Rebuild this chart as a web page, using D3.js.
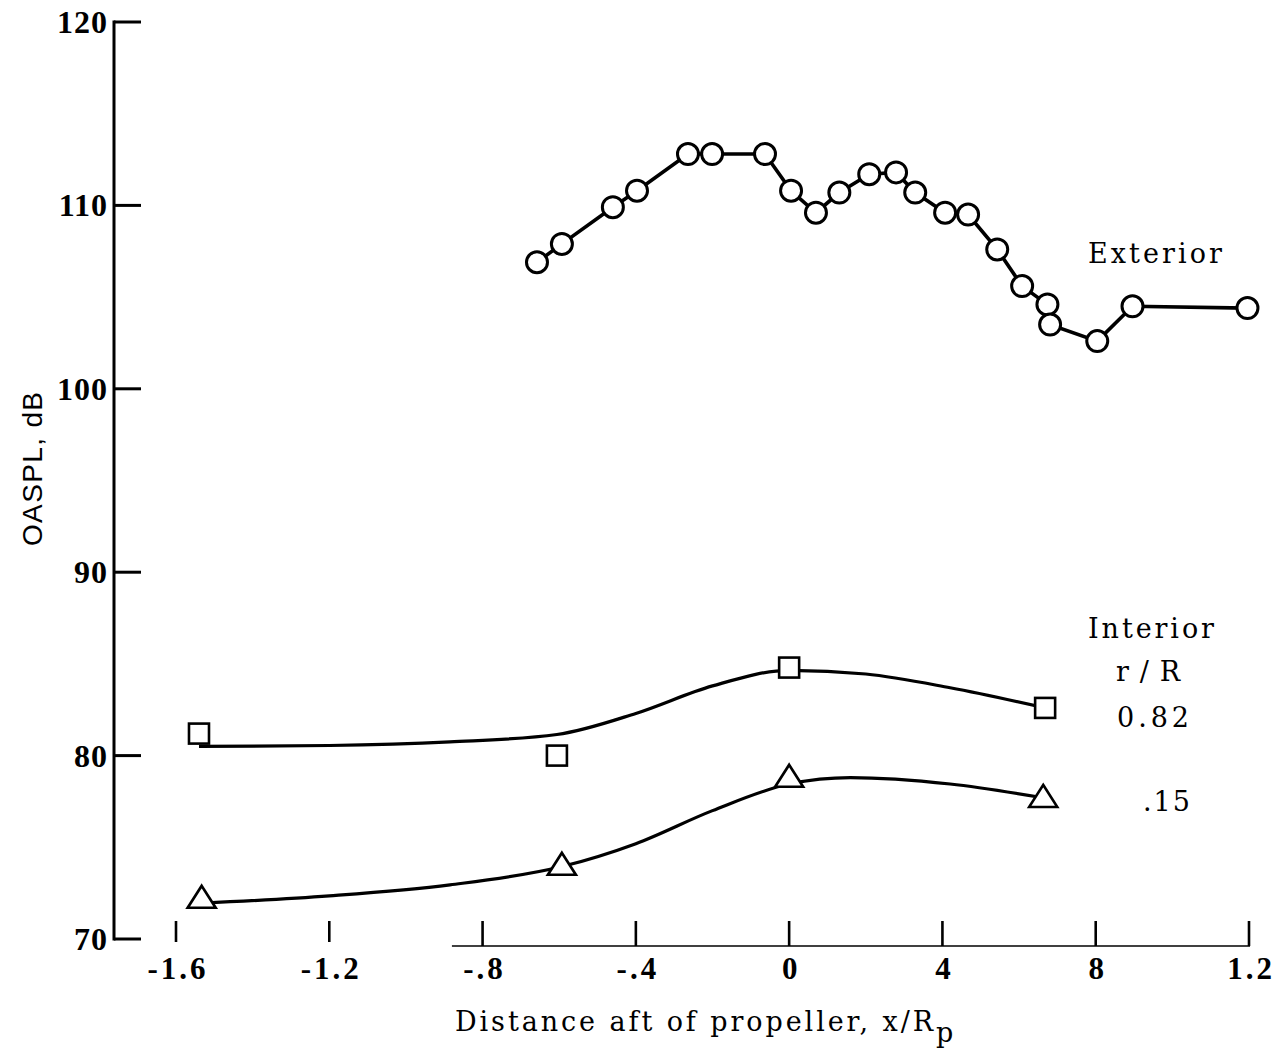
<!DOCTYPE html>
<html>
<head>
<meta charset="utf-8">
<script src="https://cdn.jsdelivr.net/npm/d3@7"></script>
<style>
  html, body { margin: 0; padding: 0; background: #fff; }
  svg { display: block; }
</style>
</head>
<body>
<svg id="chart" width="1287" height="1053"></svg>
<script>
// ---------- data ----------
const yTicks = [70, 80, 90, 100, 110, 120];
const xTicks = [-1.6, -1.2, -0.8, -0.4, 0, 0.4, 0.8, 1.2];
const xTickLabels = ["-1.6", "-1.2", "-.8", "-.4", "0", "4", "8", "1.2"];

// Exterior (circles)
const extX = [-0.658, -0.593, -0.460, -0.397, -0.264, -0.201, -0.063, 0.005, 0.070, 0.131, 0.209,
              0.279, 0.329, 0.407, 0.467, 0.543, 0.608, 0.674, 0.681, 0.804, 0.896, 1.196];
const extY = [106.9, 107.9, 109.9, 110.8, 112.8, 112.8, 112.8, 110.8, 109.6, 110.7, 111.7,
              111.8, 110.7, 109.6, 109.5, 107.6, 105.6, 104.6, 103.5, 102.6, 104.5, 104.4];

// Interior r/R = 0.82 (squares)
const sqX = [-1.54, -0.606, 0, 0.668];
const sqY = [81.2, 80.0, 84.8, 82.6];
const sqFitX = [-1.54, -1.2, -0.885, -0.606, -0.4, -0.2, 0, 0.2, 0.42, 0.668];
const sqFitY = [80.5, 80.55, 80.75, 81.15, 82.3, 83.8, 84.65, 84.45, 83.7, 82.6];

// Interior r/R = .15 (triangles)
const triX = [-1.533, -0.593, 0, 0.663];
const triY = [72.1, 73.9, 78.7, 77.6];
const triFitX = [-1.533, -1.2, -0.885, -0.593, -0.4, -0.2, 0, 0.16, 0.42, 0.663];
const triFitY = [71.95, 72.35, 72.95, 73.95, 75.2, 77.0, 78.45, 78.8, 78.45, 77.7];

// ---------- drawing ----------
const svg = d3.select("#chart");
const x = d3.scaleLinear().domain([-1.6, 1.2]).range([176, 1249]);
const y = d3.scaleLinear().domain([70, 120]).range([939, 22]);

const axisX = 114;      // y-axis line position
const xAxisY = 946;     // x-axis line position
const serif = "'DejaVu Serif', serif";
const tickFont = "'Liberation Serif', 'Times New Roman', serif";

// y axis
svg.append("line")
  .attr("x1", axisX).attr("x2", axisX)
  .attr("y1", y(120) - 1.5).attr("y2", y(70) + 1.5)
  .attr("stroke", "#000").attr("stroke-width", 3);
svg.selectAll(".ytick").data(yTicks).enter().append("line")
  .attr("x1", axisX).attr("x2", axisX + 27)
  .attr("y1", d => y(d)).attr("y2", d => y(d))
  .attr("stroke", "#000").attr("stroke-width", 3);
svg.selectAll(".ylab").data(yTicks).enter().append("text")
  .attr("x", axisX - 6).attr("y", d => y(d) + 11)
  .attr("text-anchor", "end")
  .attr("font-family", tickFont).attr("font-weight", "bold")
  .attr("font-size", 32).attr("letter-spacing", 1)
  .text(d => d);

// x axis (partial line as in the original)
svg.append("line")
  .attr("x1", x(-0.88)).attr("x2", x(1.2) + 1)
  .attr("y1", xAxisY).attr("y2", xAxisY)
  .attr("stroke", "#000").attr("stroke-width", 1.6);
svg.selectAll(".xtick").data(xTicks).enter().append("line")
  .attr("x1", d => x(d)).attr("x2", d => x(d))
  .attr("y1", d => d < -1 ? xAxisY - 4 : xAxisY)
  .attr("y2", xAxisY - 25)
  .attr("stroke", "#000").attr("stroke-width", 2.6);
svg.selectAll(".xlab").data(xTicks).enter().append("text")
  .attr("x", (d, i) => x(d) + 2).attr("y", 979)
  .attr("text-anchor", "middle")
  .attr("font-family", tickFont).attr("font-weight", "bold")
  .attr("font-size", 31).attr("letter-spacing", 3)
  .text((d, i) => xTickLabels[i]);

// axis titles
svg.append("text")
  .attr("transform", "translate(42," + 469 + ") rotate(-90)")
  .attr("text-anchor", "middle")
  .attr("font-family", "'Liberation Sans', Arial, sans-serif")
  .attr("font-size", 28)
  .attr("textLength", 154).attr("lengthAdjust", "spacing")
  .text("OASPL, dB");

const xt = svg.append("text")
  .attr("x", 455).attr("y", 1031)
  .attr("font-family", serif).attr("font-size", 27);
xt.append("tspan").attr("textLength", 478).attr("lengthAdjust", "spacing")
  .text("Distance aft of propeller, x/R");
xt.append("tspan").attr("dy", 11).attr("font-size", 27).text("p");

// fitted interior curves
const curveLine = d3.line().x(d => x(d[0])).y(d => y(d[1])).curve(d3.curveMonotoneX);
svg.append("path")
  .attr("d", curveLine(d3.zip(sqFitX, sqFitY)))
  .attr("fill", "none").attr("stroke", "#000").attr("stroke-width", 3.2);
svg.append("path")
  .attr("d", curveLine(d3.zip(triFitX, triFitY)))
  .attr("fill", "none").attr("stroke", "#000").attr("stroke-width", 3.2);

// exterior polyline
const straight = d3.line().x(d => x(d[0])).y(d => y(d[1]));
const extData = d3.zip(extX, extY);
svg.append("path")
  .attr("d", straight(extData))
  .attr("fill", "none").attr("stroke", "#000").attr("stroke-width", 3.6);
svg.selectAll(".ext").data(extData).enter().append("circle")
  .attr("cx", d => x(d[0])).attr("cy", d => y(d[1])).attr("r", 10.5)
  .attr("fill", "#fff").attr("stroke", "#000").attr("stroke-width", 3);

// squares
const sqData = d3.zip(sqX, sqY);
svg.selectAll(".sq").data(sqData).enter().append("rect")
  .attr("x", d => x(d[0]) - 10).attr("y", d => y(d[1]) - 10)
  .attr("width", 20).attr("height", 20)
  .attr("fill", "#fff").attr("stroke", "#000").attr("stroke-width", 2.6);

// triangles
const triData = d3.zip(triX, triY);
const triPath = d3.symbol().type(d3.symbolTriangle).size(310);
svg.selectAll(".tri").data(triData).enter().append("path")
  .attr("d", triPath)
  .attr("transform", d => "translate(" + x(d[0]) + "," + y(d[1]) + ") scale(1.05,0.95)")
  .attr("fill", "#fff").attr("stroke", "#000").attr("stroke-width", 2.6);

// labels
const labels = [
  { t: "Exterior", x: 1088, y: 263, w: 134 },
  { t: "Interior", x: 1088, y: 638, w: 126 },
  { t: "r/R", x: 1116, y: 681, w: 64 },
  { t: "0.82", x: 1117, y: 727, w: 72 },
  { t: ".15", x: 1143, y: 811, w: 47 }
];
svg.selectAll(".lab").data(labels).enter().append("text")
  .attr("x", d => d.x).attr("y", d => d.y)
  .attr("font-family", serif).attr("font-size", 27)
  .attr("textLength", d => d.w).attr("lengthAdjust", "spacing")
  .text(d => d.t);
</script>
</body>
</html>
